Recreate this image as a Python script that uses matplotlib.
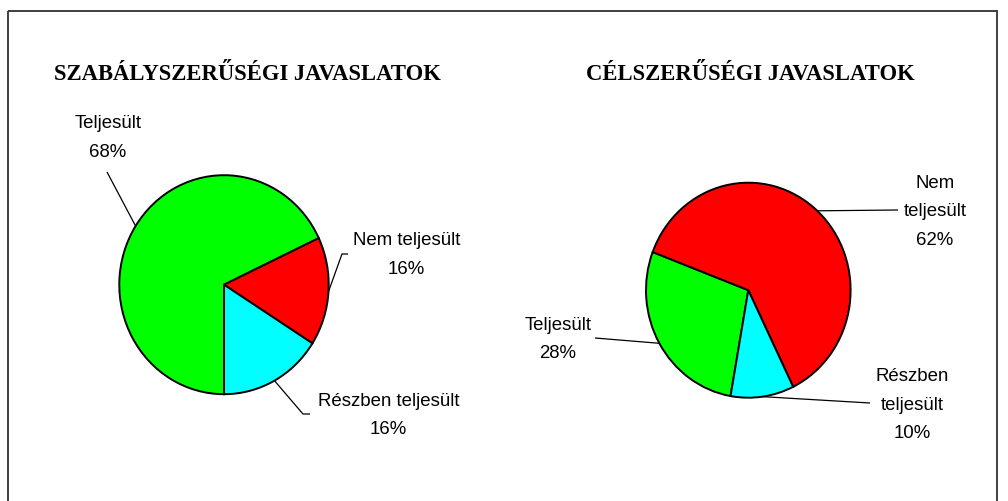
import numpy as np
import matplotlib
matplotlib.use("Agg")
import matplotlib.pyplot as plt
from matplotlib.patches import Rectangle

# ---- data ----
categories = ["Teljesült", "Nem teljesült", "Részben teljesült"]
values_left = [68, 16, 16]
values_right = [28, 62, 10]
titles = ["SZABÁLYSZERŰSÉGI JAVASLATOK", "CÉLSZERŰSÉGI JAVASLATOK"]
colors = ["#00FF00", "#FF0000", "#00FFFF"]

W, H = 1008, 501
fig = plt.figure(figsize=(W / 100, H / 100), dpi=100)
fig.patch.set_facecolor("white")

ov = fig.add_axes([0, 0, 1, 1])
ov.set_xlim(0, W)
ov.set_ylim(H, 0)
ov.axis("off")
ov.set_zorder(0)

# outer frame (bottom edge lies below the visible area)
ov.add_patch(Rectangle((8, 11), 989, 520, fill=False, edgecolor="#303030",
                       linewidth=1.3, clip_on=False))

LABEL_FONT = dict(family="Liberation Sans", size=13.4, color="black")
LINE_DY = 28.5


def draw_pie(cx, cy, rx, ry, values, start):
    m = 1.03
    ax = fig.add_axes([(cx - rx * m) / W, (H - cy - ry * m) / H,
                       2 * rx * m / W, 2 * ry * m / H])
    wedges, _ = ax.pie(values, colors=colors, startangle=start,
                       counterclock=False, radius=1, frame=True,
                       wedgeprops=dict(edgecolor="black", linewidth=1.4))
    ax.set_xlim(-m, m)
    ax.set_ylim(-m, m)
    ax.set_aspect("auto")
    ax.axis("off")
    ax.set_zorder(1)
    ax.patch.set_alpha(0)
    return wedges


def edge_point(w, cx, cy, rx, ry):
    a = np.deg2rad((w.theta1 + w.theta2) / 2.0)
    return cx + rx * np.cos(a), cy - ry * np.sin(a)


def draw_label(x, y0, lines):
    for i, ln in enumerate(lines):
        ov.text(x, y0 + i * LINE_DY, ln, ha="center", va="baseline", **LABEL_FONT)


def draw_leader(start_pt, path_pts):
    xs = [p[0] for p in path_pts] + [start_pt[0]]
    ys = [p[1] for p in path_pts] + [start_pt[1]]
    ov.plot(xs, ys, color="black", linewidth=0.9, solid_capstyle="butt")


# ---- left pie ----
L = dict(cx=224, cy=284.7, rx=104.7, ry=109.5)
wl = draw_pie(L["cx"], L["cy"], L["rx"], L["ry"], values_left, 270)
left_layout = [
    # label lines, label position, leader points (label side)
    ([categories[0], f"{values_left[0]}%"], (108, 128.5), [(107, 172)]),
    ([categories[1], f"{values_left[1]}%"], (406.5, 245), [(348, 254), (342, 254)]),
    ([categories[2], f"{values_left[2]}%"], (388.5, 406), [(310, 414), (303, 414)]),
]
for w, (lines, pos, pts) in zip(wl, left_layout):
    draw_label(pos[0], pos[1], lines)
    draw_leader(edge_point(w, L["cx"], L["cy"], L["rx"], L["ry"]), pts)

# ---- right pie ----
R = dict(cx=748.3, cy=290.2, rx=102.3, ry=107.5)
wr = draw_pie(R["cx"], R["cy"], R["rx"], R["ry"], values_right, 260)
right_layout = [
    (["Teljesült", f"{values_right[0]}%"], (558, 330), [(595, 338)]),
    (["Nem", "teljesült", f"{values_right[1]}%"], (935, 188), [(898, 210)]),
    (["Részben", "teljesült", f"{values_right[2]}%"], (912, 381), [(870, 403)]),
]
for w, (lines, pos, pts) in zip(wr, right_layout):
    draw_label(pos[0], pos[1], lines)
    draw_leader(edge_point(w, R["cx"], R["cy"], R["rx"], R["ry"]), pts)

# ---- titles ----
TITLE_FONT = dict(family="Liberation Serif", weight="bold", size=16.3, color="black")
ov.text(247.5, 79.5, titles[0], ha="center", va="baseline", **TITLE_FONT)
ov.text(750.5, 79.5, titles[1], ha="center", va="baseline", **TITLE_FONT)

fig.savefig("out.png", dpi=100, facecolor="white")
